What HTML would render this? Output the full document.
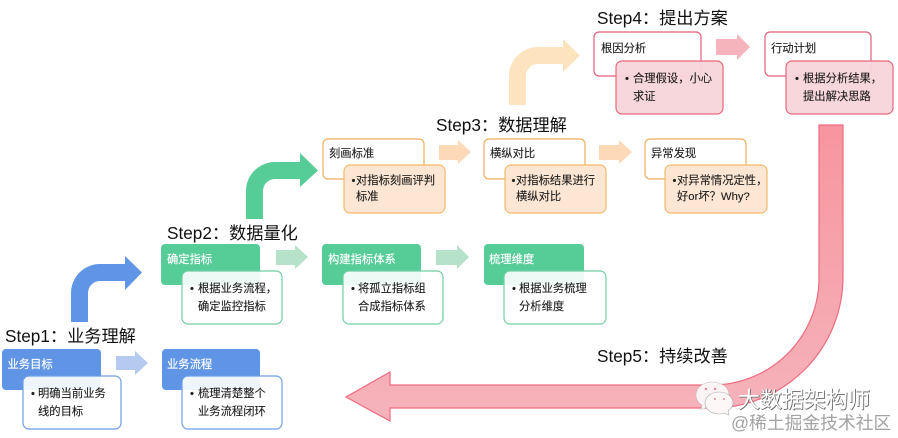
<!DOCTYPE html>
<html lang="zh">
<head>
<meta charset="utf-8">
<style>
html,body{margin:0;padding:0;background:#fff;width:898px;height:438px;overflow:hidden}
svg{display:block}
text{font-family:"Liberation Sans","Noto Sans CJK SC",sans-serif;fill:#1c1c1c;font-size:11.3px;stroke:#1c1c1c;stroke-width:.12}
.w{fill:#fff;stroke:#fff;stroke-width:.15}
.h{font-size:17.2px;fill:#111;stroke:none}
.blue{fill:#5f95e4}
.green{fill:#56cc96}
.wb{fill:#fff;fill-opacity:.9;stroke-width:1.2}
.ob{fill:#fde6d2;fill-opacity:.95;stroke:#f7b968;stroke-width:1.2}
.ot{fill:#fff;stroke:#efae5c;stroke-width:1.2}
.pb{fill:#f8d5da;fill-opacity:.95;stroke:#e8667c;stroke-width:1.2}
.pt{fill:#fff;stroke:#e0607a;stroke-width:1.2}
</style>
</head>
<body>
<svg width="898" height="438" viewBox="0 0 898 438" xmlns="http://www.w3.org/2000/svg">
<defs>
<linearGradient id="g" x1="0" y1="125" x2="0" y2="408" gradientUnits="userSpaceOnUse">
<stop offset="0" stop-color="#f7959f"/><stop offset="1" stop-color="#f6b2ba"/>
</linearGradient>
</defs>

<!-- bent arrows -->
<path d="M71 322V293A29 29 0 0 1 100 264H125V256L142 272.500L125 290V281H100A12 12 0 0 0 88 293V322Z" fill="#5f95e4"/>
<path d="M246 219V191A29 29 0 0 1 275 162H300V153L318 170.500L300 187V179H275A12 12 0 0 0 263 191V219Z" fill="#56cc96"/>
<path d="M509 105V76A29 29 0 0 1 538 47H563V39L580 55.500L563 72V64H538A12 12 0 0 0 526 76V105Z" fill="#fee3bf"/>

<!-- small arrows -->
<path d="M116 356H135V351L148 363L135 375V370H116Z" fill="#b5caf0"/>
<path d="M276 250H295V245L308 257L295 269V265H276Z" fill="#b5e2c8"/>
<path d="M436 250H457V245L469 257L457 269V265H436Z" fill="#b5e2c8"/>
<path d="M439 145H458V140L471 152L458 164V160H439Z" fill="#fdd9b8"/>
<path d="M599 145H619V140L632 152L619 164V160H599Z" fill="#fdd9b8"/>
<path d="M716 39H737V34L750 47L737 60V55H716Z" fill="#f5b3bc"/>

<!-- big return arrow -->
<path d="M819 125H843V277A131 131 0 0 1 712 408H390V421L346 397L390 372V385H712A107 107 0 0 0 819 278Z" fill="url(#g)" stroke="#ee6b7f" stroke-width="1.2"/>

<!-- Step1 -->
<rect class="blue" x="2" y="349" width="99" height="41" rx="4"/>
<rect class="wb" x="23" y="376" width="98" height="53" rx="6" stroke="#6d9ee6"/>
<text class="w" x="7.500" y="368">业务目标</text>
<text x="31" y="397">•</text><text x="38" y="397">明确当前业务</text><text x="38" y="415">线的目标</text>

<rect class="blue" x="162" y="349" width="98" height="41" rx="4"/>
<rect class="wb" x="182" y="376" width="100" height="53" rx="6" stroke="#6d9ee6"/>
<text class="w" x="167" y="368">业务流程</text>
<text x="190" y="397">•</text><text x="198" y="397">梳理清楚整个</text><text x="198" y="415">业务流程闭环</text>

<!-- Step2 -->
<rect class="green" x="161" y="244" width="99" height="41" rx="4"/>
<rect class="wb" x="182" y="271" width="100" height="53" rx="6" stroke="#6fcfa2"/>
<text class="w" x="167" y="263">确定指标</text>
<text x="190" y="292">•</text><text x="198" y="292">根据业务流程，</text><text x="198" y="310">确定监控指标</text>

<rect class="green" x="322" y="244" width="99" height="41" rx="4"/>
<rect class="wb" x="343" y="271" width="100" height="53" rx="6" stroke="#6fcfa2"/>
<text class="w" x="328" y="263">构建指标体系</text>
<text x="351" y="292">•</text><text x="358" y="292">将孤立指标组</text><text x="358" y="310">合成指标体系</text>

<rect class="green" x="484" y="244" width="100" height="41" rx="4"/>
<rect class="wb" x="504" y="271" width="102" height="53" rx="6" stroke="#6fcfa2"/>
<text class="w" x="489" y="263">梳理维度</text>
<text x="512" y="292">•</text><text x="519" y="292">根据业务梳理</text><text x="519" y="310">分析维度</text>

<!-- Step3 -->
<rect class="ot" x="323" y="139" width="101" height="40" rx="5"/>
<rect class="ob" x="344" y="165" width="101" height="48" rx="6"/>
<text x="329" y="157">刻画标准</text>
<text x="351.500" y="184">•</text><text x="356" y="184">对指标刻画评判</text><text x="356" y="200">标准</text>

<rect class="ot" x="484" y="139" width="101" height="40" rx="5"/>
<rect class="ob" x="505" y="165" width="101" height="48" rx="6"/>
<text x="490" y="157">横纵对比</text>
<text x="511.500" y="184">•</text><text x="516" y="184">对指标结果进行</text><text x="516" y="200">横纵对比</text>

<rect class="ot" x="645" y="139" width="101" height="40" rx="5"/>
<rect class="ob" x="665" y="165" width="102" height="48" rx="6"/>
<text x="651" y="157">异常发现</text>
<text x="672.500" y="184">•</text><text x="677" y="184">对异常情况定性，</text><text x="677" y="200">好or坏？Why?</text>

<!-- Step4 -->
<rect class="pt" x="594" y="32" width="107" height="44" rx="5"/>
<rect class="pb" x="616" y="61" width="107" height="53" rx="6"/>
<text x="601" y="52">根因分析</text>
<text x="625" y="82">•</text><text x="633" y="82">合理假设，小心</text><text x="633" y="100">求证</text>

<rect class="pt" x="765" y="32" width="106" height="44" rx="5"/>
<rect class="pb" x="786" y="61" width="107" height="53" rx="6"/>
<text x="771" y="52">行动计划</text>
<text x="795" y="82">•</text><text x="803" y="82">根据分析结果，</text><text x="803" y="100">提出解决思路</text>

<!-- headings -->
<text class="h" x="5" y="342">Step1：业务理解</text>
<text class="h" x="167" y="239">Step2：数据量化</text>
<text class="h" x="436" y="131">Step3：数据理解</text>
<text class="h" x="597" y="24">Step4：提出方案</text>
<text class="h" x="597" y="362">Step5：持续改善</text>

<!-- watermark -->
<path d="M712 382C703 382 696 388 696 395C696 400 699 403 702 405L701 410L707 407C709 408 711 408 713 408C724 408 729 402 729 395C729 388 722 382 712 382Z" fill="#fbf3f4" stroke="#bbb" stroke-width=".5"/>
<path d="M719 392C711 392 705 397 705 403C705 409 711 414 719 414C721 414 722 414 724 413L729 415L728 411C731 409 733 406 733 403C733 397 727 392 719 392Z" fill="#fdf7f7" stroke="#aaa" stroke-width=".6"/>
<circle cx="706" cy="389" r="1.200" fill="#e58b98"/><circle cx="715" cy="389" r="1.200" fill="#e58b98"/>
<circle cx="715" cy="399" r="1" fill="#e58b98"/><circle cx="724" cy="399" r="1" fill="#e58b98"/>
<text x="738.500" y="408" style="font-size:22px;fill:#555;stroke:#666;stroke-width:.7">大数据架构师</text>
<text x="738" y="407.500" style="font-size:22px;fill:#fff;stroke:none">大数据架构师</text>
<text x="731" y="429" style="font-size:17.800px;fill:#a3a3a3;stroke:none">@稀土掘金技术社区</text>
</svg>
</body>
</html>
